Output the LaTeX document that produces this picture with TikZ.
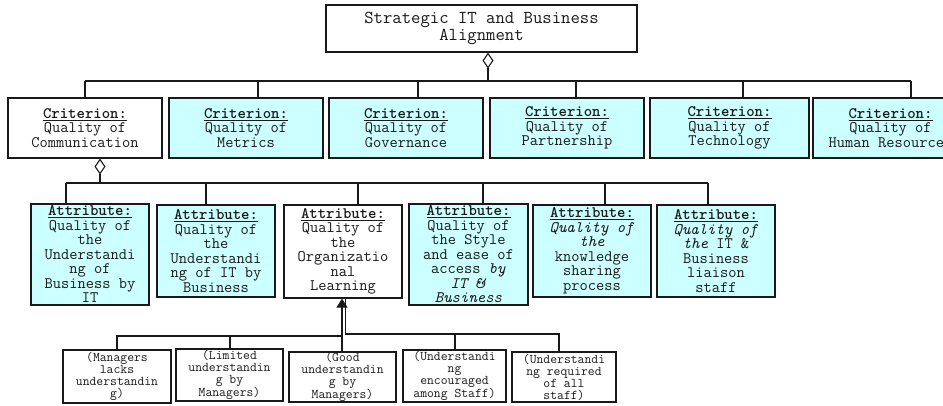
\documentclass[tikz,border=0pt]{standalone}
\usepackage{fontspec}
\usetikzlibrary{arrows.meta}
\definecolor{boxcyan}{RGB}{204,255,255}
\definecolor{ink}{RGB}{25,25,25}
\newcommand{\hd}[1]{\underline{\textbf{#1}}}
\begin{document}
\begin{tikzpicture}[x=1pt,y=-1pt,
  base/.style={draw=ink, line width=1.1pt, align=center, inner sep=0pt, text=ink},
  topbox/.style={base, fill=white, font=\ttfamily\fontsize{18.2}{17.4}\selectfont},
  critbox/.style={base, font=\ttfamily\fontsize{16}{14.5}\selectfont},
  cyanbox/.style={fill=boxcyan},
  whitebox/.style={fill=white},
  lowbox/.style={base, fill=white, font=\ttfamily\fontsize{13.3}{12}\selectfont},
  wire/.style={draw=ink, line width=1.1pt},
  agg/.style={wire, {Diamond[open, length=16pt, width=11pt]}-},
  upar/.style={wire, -{Triangle[length=9pt, width=11pt]}}
]
\useasboundingbox (0,0) rectangle (943,405);
\clip (0,0) rectangle (943,405);
\fill[white] (0,0) rectangle (943,405);

% top
\node[topbox, minimum width=311pt, minimum height=47pt] (top) at (481.5,28.5)
  {Strategic IT and Business\\Alignment};

% criteria
\node[critbox, whitebox, minimum width=154pt, minimum height=60pt] (c1) at (85,128)
  {\hd{Criterion:}\\Quality of\\Communication};
\node[critbox, cyanbox, minimum width=154pt, minimum height=60pt] (c2) at (246,128)
  {\hd{Criterion:}\\Quality of\\Metrics};
\node[critbox, cyanbox, minimum width=154pt, minimum height=60pt] (c3) at (406,128)
  {\hd{Criterion:}\\Quality of\\Governance};
\node[critbox, cyanbox, minimum width=154pt, minimum height=60pt] (c4) at (567,128)
  {\hd{Criterion:}\\Quality of\\Partnership};
\node[critbox, cyanbox, minimum width=159pt, minimum height=60pt] (c5) at (729.5,128)
  {\hd{Criterion:}\\Quality of\\Technology};
\node[critbox, cyanbox, minimum width=155pt, minimum height=60pt] (c6) at (890.5,128)
  {\hd{Criterion:}\\Quality of\\Human Resources};

% attributes
\node[critbox, cyanbox, minimum width=118pt, minimum height=101pt] (a1) at (90,254.5)
  {\hd{Attribute:}\\Quality of\\the\\Understandi\\ng of\\Business by\\IT};
\node[critbox, cyanbox, minimum width=118pt, minimum height=92pt] (a2) at (216,251)
  {\hd{Attribute:}\\Quality of\\the\\Understandi\\ng of IT by\\Business};
\node[critbox, whitebox, minimum width=118pt, minimum height=93pt] (a3) at (343,251.5)
  {\hd{Attribute:}\\Quality of\\the\\Organizatio\\nal\\Learning};
\node[critbox, cyanbox, minimum width=119pt, minimum height=101pt] (a4) at (468.5,254.5)
  {\hd{Attribute:}\\Quality of\\the Style\\and ease of\\access \textit{by}\\\textit{IT \&}\\\textit{Business}};
\node[critbox, cyanbox, minimum width=118pt, minimum height=92pt] (a5) at (592,251)
  {\hd{Attribute:}\\\textit{Quality of}\\\textit{the}\\knowledge\\sharing\\process};
\node[critbox, cyanbox, minimum width=118pt, minimum height=92pt] (a6) at (716,251)
  {\hd{Attribute:}\\\textit{Quality of}\\\textit{the} IT \&\\Business\\liaison\\staff};

% bottom values
\node[lowbox, minimum width=108pt, minimum height=53pt] (b1) at (117,376.5)
  {(Managers\\lacks\\understandin\\g)};
\node[lowbox, minimum width=107pt, minimum height=52pt] (b2) at (229.5,375)
  {(Limited\\understandin\\g by\\Managers)};
\node[lowbox, minimum width=107pt, minimum height=50pt] (b3) at (342.5,377)
  {(Good\\understandin\\g by\\Managers)};
\node[lowbox, minimum width=103pt, minimum height=52pt] (b4) at (454.5,376)
  {(Understandi\\ng\\encouraged\\among Staff)};
\node[lowbox, minimum width=104pt, minimum height=50pt] (b5) at (564,377)
  {(Understandi\\ng required\\of all\\staff)};

% top aggregation
\coordinate (t0) at (488,81);
\coordinate (t1) at (85,81);
\coordinate (t2) at (258,81);
\coordinate (t3) at (418,81);
\coordinate (t4) at (576,81);
\coordinate (t5) at (743,81);
\coordinate (t6) at (911,81);
\draw[agg] (top.south -| t0) -- (t0);
\draw[wire] (t1) -- (t6);
\draw[wire] (t1) -- (c1.north -| t1);
\draw[wire] (t2) -- (c2.north -| t2);
\draw[wire] (t3) -- (c3.north -| t3);
\draw[wire] (t4) -- (c4.north -| t4);
\draw[wire] (t5) -- (c5.north -| t5);
\draw[wire] (t6) -- (c6.north -| t6);

% criterion aggregation
\coordinate (k0) at (100,183);
\coordinate (k1) at (66,183);
\coordinate (k2) at (206,183);
\coordinate (k3) at (358,183);
\coordinate (k4) at (483,183);
\coordinate (k5) at (605,183);
\coordinate (k6) at (708,183);
\draw[agg] (c1.south -| k0) -- (k0);
\draw[wire] (k1) -- (k6);
\draw[wire] (k1) -- (a1.north -| k1);
\draw[wire] (k2) -- (a2.north -| k2);
\draw[wire] (k3) -- (a3.north -| k3);
\draw[wire] (k4) -- (a4.north -| k4);
\draw[wire] (k5) -- (a5.north -| k5);
\draw[wire] (k6) -- (a6.north -| k6);

% values to organizational learning
\coordinate (l1) at (117,336);
\coordinate (l2) at (230,336);
\coordinate (l3) at (342,336);
\coordinate (r0) at (345.5,334);
\coordinate (r4) at (455,334);
\coordinate (r5) at (559,334);
\draw[upar] (b3.north -| l3) -- (a3.south -| l3);
\draw[wire] (b1.north -| l1) -- (l1) -- (l3);
\draw[wire] (b2.north -| l2) -- (l2);
\draw[wire] (a3.south -| r0) -- (r0) -- (r5) -- (b5.north -| r5);
\draw[wire] (r4) -- (b4.north -| r4);
\end{tikzpicture}
\end{document}
